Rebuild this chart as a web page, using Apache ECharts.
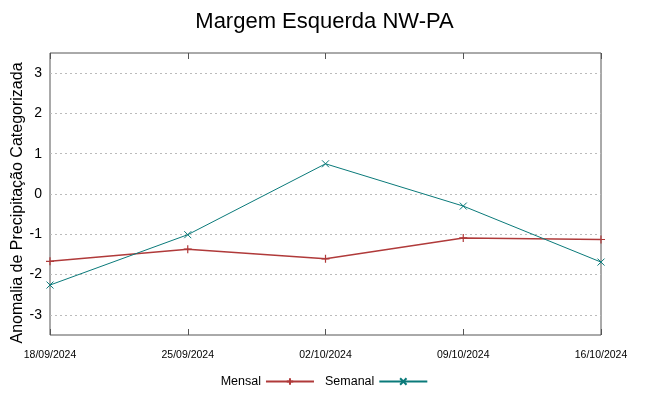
<!DOCTYPE html>
<html>
<head>
<meta charset="utf-8">
<script src="https://cdn.jsdelivr.net/npm/echarts@6/dist/echarts.min.js"></script>
<style>html,body{margin:0;padding:0;background:#fff}#c{width:649px;height:396px}</style>
</head>
<body>
<div id="c"></div>
<script>
const categories = ["18/09/2024", "25/09/2024", "02/10/2024", "09/10/2024", "16/10/2024"];
const mensal = [-1.67, -1.37, -1.61, -1.09, -1.13];
const semanal = [-2.26, -1.01, 0.75, -0.30, -1.69];
const yTicks = [-3, -2, -1, 0, 1, 2, 3];
const yTitle = 'Anomalia de Precipitação Categorizada';

const plusPath = 'path://M0,5L10,5M5,0L5,10';
const crossPath = 'path://M0,0L10,10M0,10L10,0';

const chart = echarts.init(document.getElementById('c'));
chart.setOption({
  animation: false,
  backgroundColor: '#fff',
  title: {
    text: 'Margem Esquerda NW-PA',
    left: 'center', top: 6,
    textStyle: { fontFamily: 'Liberation Sans', fontSize: 22, fontWeight: 'normal', color: '#000' }
  },
  graphic: [{
    type: 'text', x: 18, y: 203, rotation: Math.PI / 2,
    style: { text: yTitle, fontFamily: 'Liberation Sans', fontSize: 16, fill: '#000',
             align: 'center', verticalAlign: 'middle' }
  }],
  legend: {
    bottom: 3, left: 'center', align: 'right',
    itemWidth: 48, itemHeight: 8, itemGap: 10,
    textStyle: { fontFamily: 'Liberation Sans', fontSize: 12.5, color: '#000' },
    data: ['Mensal', 'Semanal']
  },
  grid: { left: 50, right: 48, top: 53, bottom: 61, show: true, borderColor: '#555', borderWidth: 1,
          containLabel: false, outerBoundsMode: 'none' },
  xAxis: [{
    type: 'category', data: categories, boundaryGap: false,
    axisLine: { show: false, onZero: false },
    axisTick: { inside: true, length: 6, lineStyle: { color: '#555' } },
    axisLabel: { margin: 15, fontFamily: 'Liberation Sans', fontSize: 10.5, color: '#000' },
    splitLine: { show: false }
  }, {
    type: 'category', data: categories, boundaryGap: false, position: 'top',
    axisLine: { show: false, onZero: false },
    axisTick: { inside: true, length: 6, lineStyle: { color: '#555' } },
    axisLabel: { show: false },
    splitLine: { show: false }
  }],
  yAxis: [{
    type: 'value', min: -3.5, max: 3.5,
    axisLine: { show: false, onZero: false },
    axisTick: { inside: true, length: 6, customValues: yTicks, lineStyle: { color: '#333' } },
    axisLabel: { customValues: yTicks, margin: 8, fontFamily: 'Liberation Sans', fontSize: 14, color: '#000' },
    splitLine: { show: true, customValues: yTicks, lineStyle: { color: '#bbb', type: [2, 3], width: 1 } }
  }, {
    type: 'value', min: -3.5, max: 3.5, position: 'right',
    axisLine: { show: false, onZero: false },
    axisTick: { inside: true, length: 6, customValues: yTicks, lineStyle: { color: '#333' } },
    axisLabel: { show: false, customValues: yTicks },
    splitLine: { show: false }
  }],
  series: [{
    name: 'Mensal', type: 'line', data: mensal,
    symbol: plusPath, symbolSize: 8, showSymbol: true,
    lineStyle: { color: '#b03a3a', width: 1.5 },
    itemStyle: { color: 'none', borderColor: '#b03a3a', borderWidth: 1.2 },
    color: '#b03a3a'
  }, {
    name: 'Semanal', type: 'line', data: semanal,
    symbol: crossPath, symbolSize: 7, showSymbol: true,
    lineStyle: { color: '#0a7a7a', width: 1 },
    itemStyle: { color: 'none', borderColor: '#0a7a7a', borderWidth: 1 },
    color: '#0a7a7a'
  }]
});
</script>
</body>
</html>
